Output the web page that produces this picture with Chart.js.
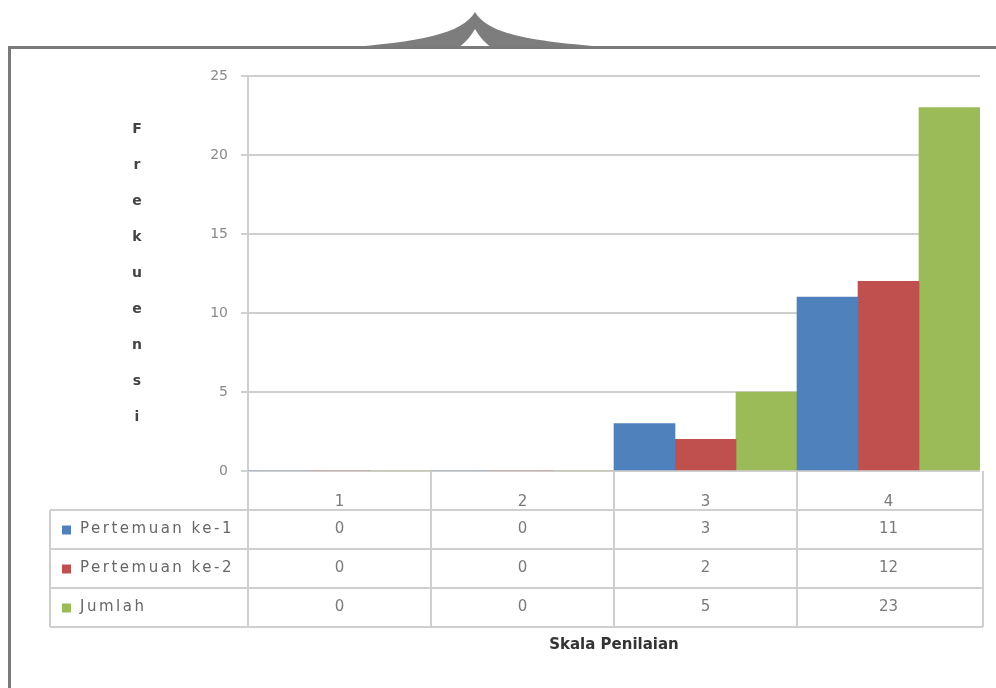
<!DOCTYPE html>
<html>
<head>
<meta charset="utf-8">
<script src="https://cdn.jsdelivr.net/npm/chart.js@4/dist/chart.umd.min.js"></script>
<style>
  html, body { margin: 0; padding: 0; background: #fff; }
  #wrap { width: 996px; height: 688px; position: relative; }
</style>
</head>
<body>
<div id="wrap"><canvas id="chart" width="996" height="688"></canvas></div>
<script>
// categories (skala penilaian) and series values
const categories = ['1', '2', '3', '4'];
const seriesNames = ['Pertemuan ke-1', 'Pertemuan ke-2', 'Jumlah'];
const pertemuan1 = [0, 0, 3, 11];
const pertemuan2 = [0, 0, 2, 12];
const jumlah = [0, 0, 5, 23];
const yTicks = [0, 5, 10, 15, 20, 25];
const yTitle = 'Frekuensi';
const xTitle = 'Skala Penilaian';

const colors = ['#4f81bd', '#c0504d', '#9bbb59'];
const seriesData = [pertemuan1, pertemuan2, jumlah];
const gridColor = '#cfcfcf';
const FONT = "'DejaVu Sans', sans-serif";

// frame, brace, stacked y title and the data table under the plot
const decorPlugin = {
    id: 'decor',
    beforeDraw(chart) {
        const ctx = chart.ctx;
        ctx.save();
        // brace on top of the frame
        ctx.fillStyle = '#7d7d7d';
        ctx.beginPath();
        ctx.moveTo(340, 48);
        ctx.bezierCurveTo(420, 42, 462, 34, 475, 12);
        ctx.bezierCurveTo(488, 34, 530, 42, 622, 48);
        ctx.lineTo(492, 48);
        ctx.bezierCurveTo(484, 42, 479, 36, 475, 29);
        ctx.bezierCurveTo(471, 36, 466, 42, 458, 48);
        ctx.closePath();
        ctx.fill();
        // outer frame
        ctx.strokeStyle = '#7a7a7a';
        ctx.lineWidth = 3;
        ctx.beginPath();
        ctx.moveTo(9.5, 688);
        ctx.lineTo(9.5, 47.5);
        ctx.lineTo(996, 47.5);
        ctx.stroke();
        ctx.restore();
    },
    afterDraw(chart) {
        const ctx = chart.ctx;
        const area = chart.chartArea;
        const x = chart.scales.x;
        const y = chart.scales.y;
        ctx.save();

        // stacked y title letters
        ctx.font = 'bold 14px ' + FONT;
        ctx.fillStyle = '#444';
        ctx.textAlign = 'center';
        ctx.textBaseline = 'middle';
        const letters = yTitle.split('');
        const step = 36;
        const midY = (y.top + y.bottom) / 2;
        letters.forEach((ch, i) => {
            ctx.fillText(ch, 137, midY + (i - (letters.length - 1) / 2) * step);
        });

        // data table
        const rowH = 39;
        const tableLeft = 50;
        const right = area.right + 3;
        const headerBottom = area.bottom + rowH;
        const bottom = headerBottom + rowH * seriesNames.length;
        const half = (x.getPixelForValue(1) - x.getPixelForValue(0)) / 2;
        ctx.strokeStyle = gridColor;
        ctx.lineWidth = 2;
        ctx.beginPath();
        for (let r = 0; r <= seriesNames.length; r++) {
            const yy = headerBottom + r * rowH;
            ctx.moveTo(tableLeft, yy);
            ctx.lineTo(right, yy);
        }
        ctx.moveTo(tableLeft, headerBottom);
        ctx.lineTo(tableLeft, bottom);
        ctx.moveTo(area.left, area.bottom);
        ctx.lineTo(area.left, bottom);
        categories.forEach((c, i) => {
            const xx = i === categories.length - 1 ? right : x.getPixelForValue(i) + half;
            ctx.moveTo(xx, area.bottom);
            ctx.lineTo(xx, bottom);
        });
        ctx.stroke();

        ctx.textBaseline = 'middle';
        seriesNames.forEach((name, r) => {
            const cy = headerBottom + r * rowH + rowH / 2;
            ctx.fillStyle = colors[r];
            ctx.fillRect(62, cy - 4, 9, 9);
            ctx.font = '15px ' + FONT;
            ctx.fillStyle = '#666';
            ctx.textAlign = 'left';
            ctx.letterSpacing = '2.5px';
            ctx.fillText(name, 80, cy);
            ctx.letterSpacing = '0px';
            ctx.textAlign = 'center';
            ctx.fillStyle = '#7a7a7a';
            seriesData[r].forEach((v, i) => {
                ctx.fillText(String(v), x.getPixelForValue(i), cy);
            });
        });
        ctx.restore();
    }
};

new Chart(document.getElementById('chart'), {
    type: 'bar',
    data: {
        labels: categories,
        datasets: seriesNames.map((name, i) => ({
            label: name,
            data: seriesData[i],
            backgroundColor: colors[i],
            borderWidth: 0,
            categoryPercentage: 1.0,
            barPercentage: 1.0
        }))
    },
    options: {
        responsive: false,
        animation: false,
        layout: { padding: { left: 0, right: 16, top: 76, bottom: 0 } },
        plugins: {
            legend: { display: false },
            tooltip: { enabled: false }
        },
        scales: {
            x: {
                grid: { display: false },
                border: { display: false },
                ticks: { color: '#7a7a7a', font: { family: FONT, size: 15 }, padding: 14 },
                title: {
                    display: true,
                    text: xTitle,
                    color: '#333',
                    font: { family: FONT, size: 15, weight: 'bold' },
                    padding: { top: 0, bottom: 34 }
                },
                afterFit(scale) { scale.height = 217; }
            },
            y: {
                min: 0,
                max: 25,
                afterBuildTicks(scale) { scale.ticks = yTicks.map((v) => ({ value: v })); },
                grid: { color: gridColor, lineWidth: 2, tickLength: 7, tickColor: gridColor },
                border: { display: true, color: gridColor, width: 2 },
                ticks: { color: '#8a8a8a', font: { family: FONT, size: 14 }, padding: 13 },
                afterFit(scale) { scale.width = 248; }
            }
        }
    },
    plugins: [decorPlugin]
});
</script>
</body>
</html>
